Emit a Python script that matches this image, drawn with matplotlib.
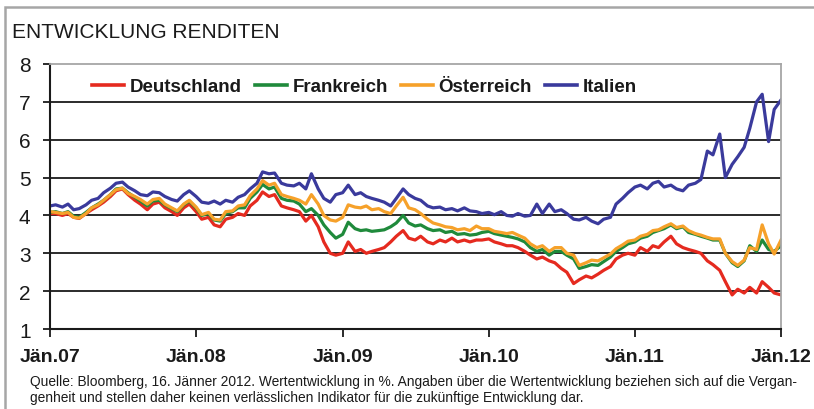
import numpy as np
import pandas as pd
import matplotlib
matplotlib.use("Agg")
import matplotlib.pyplot as plt
from matplotlib.lines import Line2D
from matplotlib.patches import Rectangle

# Halbmonatliche Stützpunkte, Jän.07 bis Jän.12
dates = pd.date_range("2007-01-01", "2012-01-01", freq="SMS")

deutschland = [
    4.05, 4.05, 4.00, 4.05, 3.95, 3.92, 4.05, 4.15, 4.25, 4.35, 4.50, 4.65,
    4.70, 4.55, 4.40, 4.30, 4.15, 4.30, 4.35, 4.20, 4.10, 4.00, 4.20, 4.30,
    4.10, 3.90, 3.95, 3.75, 3.70, 3.90, 3.95, 4.05, 4.00, 4.25, 4.40, 4.62,
    4.50, 4.55, 4.25, 4.20, 4.15, 4.10, 3.85, 4.00, 3.70, 3.30, 3.00, 2.95,
    3.00, 3.30, 3.05, 3.10, 3.00, 3.05, 3.10, 3.15, 3.30, 3.45, 3.60, 3.40,
    3.35, 3.45, 3.30, 3.25, 3.35, 3.30, 3.40, 3.30, 3.35, 3.30, 3.35, 3.35,
    3.38, 3.30, 3.25, 3.20, 3.20, 3.15, 3.05, 2.95, 2.85, 2.90, 2.80, 2.75,
    2.60, 2.50, 2.20, 2.30, 2.40, 2.35, 2.45, 2.55, 2.65, 2.85, 2.95, 3.00,
    2.95, 3.15, 3.05, 3.20, 3.15, 3.30, 3.45, 3.25, 3.15, 3.10, 3.05, 3.00,
    2.80, 2.70, 2.55, 2.25, 1.90, 2.05, 1.95, 2.10, 1.95, 2.25, 2.10, 1.95,
    1.90,
]
frankreich = [
    4.08, 4.10, 4.05, 4.10, 3.98, 3.95, 4.08, 4.20, 4.30, 4.40, 4.55, 4.70,
    4.72, 4.60, 4.48, 4.38, 4.25, 4.38, 4.40, 4.28, 4.18, 4.10, 4.28, 4.38,
    4.20, 4.00, 4.05, 3.88, 3.85, 4.05, 4.10, 4.20, 4.20, 4.45, 4.62, 4.82,
    4.70, 4.75, 4.45, 4.40, 4.38, 4.30, 4.10, 4.18, 4.00, 3.75, 3.55, 3.40,
    3.50, 3.82, 3.65, 3.60, 3.62, 3.58, 3.60, 3.62, 3.70, 3.80, 4.00, 3.80,
    3.72, 3.75, 3.65, 3.60, 3.62, 3.55, 3.58, 3.50, 3.52, 3.48, 3.50, 3.55,
    3.58, 3.52, 3.48, 3.45, 3.42, 3.38, 3.30, 3.15, 3.05, 3.10, 2.95, 3.05,
    3.05, 2.95, 2.85, 2.60, 2.65, 2.70, 2.68, 2.78, 2.90, 3.05, 3.15, 3.25,
    3.30, 3.40, 3.45, 3.55, 3.60, 3.65, 3.75, 3.65, 3.70, 3.55, 3.50, 3.45,
    3.40, 3.35, 3.35, 3.00, 2.75, 2.65, 2.80, 3.20, 3.05, 3.35, 3.10, 3.05,
    3.20,
]
oesterreich = [
    4.10, 4.08, 4.05, 4.08, 3.95, 3.93, 4.05, 4.20, 4.28, 4.40, 4.55, 4.68,
    4.72, 4.58, 4.50, 4.42, 4.30, 4.42, 4.45, 4.30, 4.20, 4.12, 4.30, 4.40,
    4.22, 4.02, 4.08, 3.90, 3.88, 4.10, 4.12, 4.25, 4.28, 4.52, 4.70, 4.92,
    4.80, 4.85, 4.55, 4.50, 4.45, 4.40, 4.30, 4.55, 4.30, 4.00, 3.88, 3.85,
    3.95, 4.28, 4.22, 4.20, 4.25, 4.15, 4.18, 4.10, 4.05, 4.25, 4.48, 4.20,
    4.15, 4.05, 3.90, 3.80, 3.75, 3.70, 3.68, 3.62, 3.65, 3.60, 3.72, 3.65,
    3.65, 3.58, 3.55, 3.52, 3.55, 3.48, 3.40, 3.25, 3.15, 3.20, 3.05, 3.15,
    3.15, 3.00, 2.95, 2.68, 2.75, 2.82, 2.80, 2.88, 2.98, 3.12, 3.22, 3.32,
    3.35, 3.45, 3.50, 3.60, 3.62, 3.70, 3.78, 3.68, 3.72, 3.60, 3.52, 3.48,
    3.42, 3.38, 3.38, 3.00, 2.78, 2.68, 2.82, 3.15, 3.10, 3.75, 3.25, 2.98,
    3.35,
]
italien = [
    4.25, 4.28, 4.22, 4.30, 4.15, 4.18, 4.28, 4.40, 4.45, 4.60, 4.72, 4.85,
    4.88, 4.75, 4.65, 4.55, 4.52, 4.62, 4.60, 4.50, 4.42, 4.38, 4.55, 4.65,
    4.50, 4.35, 4.32, 4.38, 4.30, 4.40, 4.35, 4.48, 4.55, 4.70, 4.85, 5.15,
    5.10, 5.12, 4.85, 4.80, 4.78, 4.85, 4.70, 5.10, 4.70, 4.45, 4.35, 4.55,
    4.60, 4.80, 4.55, 4.60, 4.50, 4.45, 4.40, 4.35, 4.25, 4.45, 4.70, 4.55,
    4.45, 4.40, 4.25, 4.20, 4.22, 4.15, 4.18, 4.12, 4.20, 4.12, 4.10, 4.05,
    4.08, 4.02, 4.10, 4.00, 3.98, 4.05, 3.98, 4.00, 4.30, 4.05, 4.30, 4.10,
    4.15, 4.05, 3.90, 3.88, 3.95, 3.85, 3.78, 3.90, 3.95, 4.30, 4.45, 4.60,
    4.75, 4.80, 4.70, 4.85, 4.90, 4.75, 4.80, 4.70, 4.65, 4.80, 4.85, 4.95,
    5.70, 5.60, 6.15, 5.00, 5.35, 5.55, 5.80, 6.30, 7.00, 7.20, 5.95, 6.80,
    7.05,
]

series = [
    ("Deutschland", deutschland, "#e52a1f"),
    ("Frankreich", frankreich, "#1f8a3b"),
    ("Österreich", oesterreich, "#f6a12a"),
    ("Italien", italien, "#3a3a9c"),
]
year_ticks = pd.to_datetime(["2007-01-01", "2008-01-01", "2009-01-01",
                             "2010-01-01", "2011-01-01", "2012-01-01"])
year_labels = ["Jän.07", "Jän.08", "Jän.09", "Jän.10", "Jän.11", "Jän.12"]
footer = [
    "Quelle: Bloomberg, 16. Jänner 2012. Wertentwicklung in %. Angaben über die "
    "Wertentwicklung beziehen sich auf die Vergan-",
    "genheit und stellen daher keinen verlässlichen Indikator für die "
    "zukünftige Entwicklung dar.",
]

font = ["Liberation Sans", "DejaVu Sans"]
ink = "#1a1a1a"

fig = plt.figure(figsize=(8.14, 4.10), dpi=100)
fig.patches.append(Rectangle((5 / 814, -0.1), 1.2, (410 - 8) / 410 + 0.1,
                             transform=fig.transFigure, fill=False,
                             edgecolor="#a6a6a6", linewidth=1.8))
ax = fig.add_axes([50 / 814, 1 - 330 / 410, (781 - 50) / 814, (330 - 65) / 410])

for name, vals, col in series:
    ax.plot(dates, vals, color=col, linewidth=2.3, label=name)

ax.set_ylim(1, 8)
ax.set_xlim(year_ticks[0], year_ticks[-1])
ax.set_yticks(range(1, 9))
for y in range(2, 8):
    ax.axhline(y, color=ink, linewidth=1.3, zorder=0)

ax.set_xticks(year_ticks)
ax.set_xticklabels(year_labels)
for lab in ax.get_xticklabels():
    lab.set_family(font)
    lab.set_fontsize(14)
    lab.set_fontweight("bold")
for lab in ax.get_yticklabels():
    lab.set_family(font)
    lab.set_fontsize(15)
ax.tick_params(axis="x", length=6, width=1.3, pad=8, color=ink, labelcolor=ink)
ax.tick_params(axis="y", length=5, width=1.3, pad=9, color=ink, labelcolor=ink)

for side in ("left", "bottom"):
    ax.spines[side].set_color(ink)
    ax.spines[side].set_linewidth(1.5)
for side in ("top", "right"):
    ax.spines[side].set_color("#a6a6a6")
    ax.spines[side].set_linewidth(1.3)

handles = [Line2D([], [], color=c, linewidth=2.6) for _, _, c in series]
leg = ax.legend(handles, [n for n, _, _ in series], loc="upper left",
                bbox_to_anchor=(0.035, 1.01), ncol=4, frameon=False,
                handlelength=1.7, handletextpad=0.3, columnspacing=0.7,
                prop={"family": font, "size": 13.5, "weight": "bold"})
for t in leg.get_texts():
    t.set_color(ink)

fig.text(12 / 814, 1 - 32 / 410, "ENTWICKLUNG RENDITEN", family=font,
         fontsize=15, va="center", ha="left", color=ink)

# Fußnote auf die Breite der Vorlage einpassen
renderer = fig.canvas.get_renderer()
t1 = fig.text(30 / 814, 1 - 382 / 410, footer[0], family=font, fontsize=9.5,
              va="center", ha="left", color=ink)
w = t1.get_window_extent(renderer).width
size = 9.5 * 770 / w
t1.set_fontsize(size)
fig.text(30 / 814, 1 - 398 / 410, footer[1], family=font, fontsize=size,
         va="center", ha="left", color=ink)

fig.savefig("out.png", dpi=100)
